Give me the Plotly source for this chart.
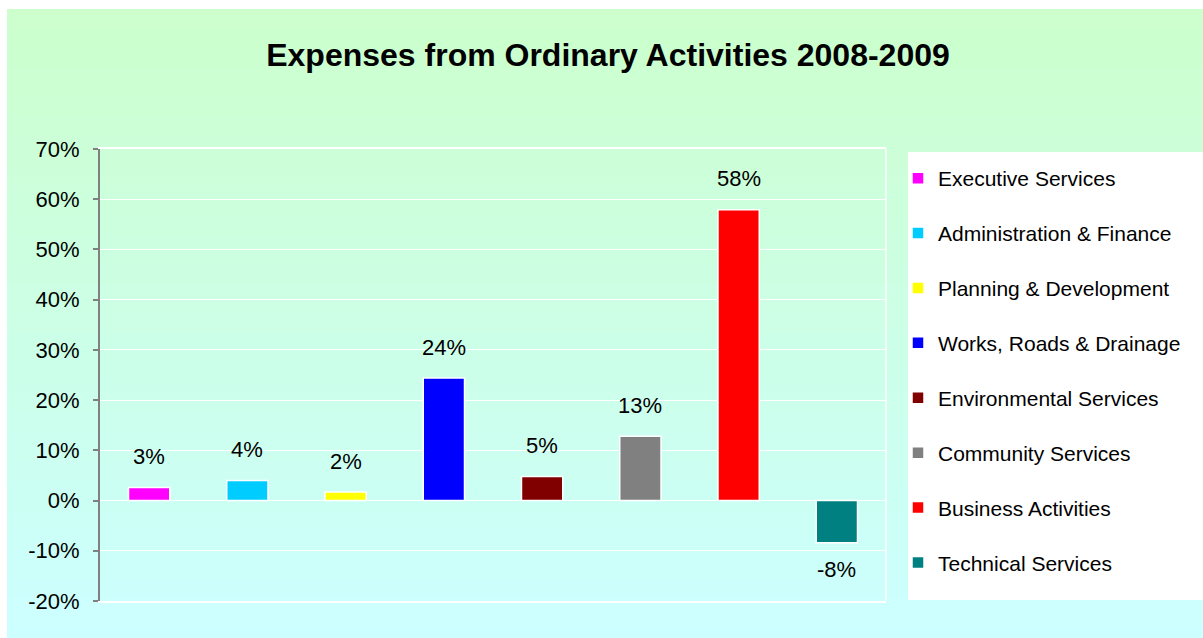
import plotly.graph_objects as go

# ---- data ----
categories = [
    "Executive Services",
    "Administration & Finance",
    "Planning & Development",
    "Works, Roads & Drainage",
    "Environmental Services",
    "Community Services",
    "Business Activities",
    "Technical Services",
]
values = [2.6, 4.0, 1.7, 24.4, 4.8, 12.8, 57.9, -8.4]
colors = ["#FF00FF", "#00CCFF", "#FFFF00", "#0000FF", "#800000", "#808080", "#FF0000", "#008080"]
y_ticks = [-20, -10, 0, 10, 20, 30, 40, 50, 60, 70]
y_tick_labels = ["-20%", "-10%", "0%", "10%", "20%", "30%", "40%", "50%", "60%", "70%"]
title_text = "Expenses from Ordinary Activities 2008-2009"

# ---- geometry helpers (pixel -> paper) ----
W, H = 1203, 638
ML, MR, MT, MB = 100, 317, 149, 37
PW, PH = W - ML - MR, H - MT - MB


def px_x(px):
    return (px - ML) / PW


def px_y(py):
    return (H - MB - py) / PH


FONT = "Liberation Sans, Arial, sans-serif"

fig = go.Figure()
for cat, val, col in zip(categories, values, colors):
    fig.add_trace(go.Bar(
        x=[cat], y=[val], name=cat, legendgroup=cat,
        marker=dict(color=col, line=dict(color="white", width=1.5)),
        width=0.42, hoverinfo="skip",
    ))

# data labels
for cat, val in zip(categories, values):
    fig.add_annotation(
        x=cat, y=val, text=f"{round(val)}%", showarrow=False,
        yanchor="middle", yshift=31 if val >= 0 else -27,
        font=dict(family=FONT, size=22, color="black"),
    )

# background gradient (light green -> light cyan)
shapes = []
top, bottom = 9, H
n = 64
step = (bottom - top) / n
for i in range(n):
    t = i / (n - 1)
    b = round(204 + (255 - 204) * t)
    y0 = top + i * step
    y1 = y0 + step + 1
    shapes.append(dict(
        type="rect", xref="paper", yref="paper", layer="below",
        x0=px_x(7), x1=px_x(W + 2), y0=px_y(min(y1, H + 2)), y1=px_y(y0),
        fillcolor=f"rgb(204,255,{b})", line=dict(width=0),
    ))
# legend white box
shapes.append(dict(
    type="rect", xref="paper", yref="paper", layer="below",
    x0=px_x(908), x1=px_x(W + 2), y0=px_y(600), y1=px_y(152),
    fillcolor="white", line=dict(width=0),
))
# right plot border
shapes.append(dict(
    type="line", xref="paper", yref="paper", layer="above",
    x0=1, x1=1, y0=0, y1=1, line=dict(color="white", width=1.5),
))

fig.update_layout(
    width=W, height=H, autosize=False,
    margin=dict(l=ML, r=MR, t=MT, b=MB, pad=0),
    paper_bgcolor="white",
    plot_bgcolor="rgba(0,0,0,0)",
    barmode="overlay",
    shapes=shapes,
    font=dict(family=FONT, size=22, color="black"),
    title=dict(
        text=f"<b>{title_text}</b>", x=608 / W, xref="container", xanchor="center",
        y=1 - 55 / H, yref="container", yanchor="middle",
        font=dict(family=FONT, size=32, color="black"),
    ),
    xaxis=dict(
        categoryorder="array", categoryarray=categories,
        showticklabels=False, ticks="", showgrid=False, zeroline=False,
        showline=True, linecolor="white", linewidth=1.5, mirror=True,
        range=[-0.5, len(categories) - 0.5],
    ),
    yaxis=dict(
        range=[-20, 70], tickvals=y_ticks, ticktext=y_tick_labels,
        showgrid=True, gridcolor="white", gridwidth=1,
        zeroline=True, zerolinecolor="white", zerolinewidth=1,
        showline=True, linecolor="#808080", linewidth=2,
        ticks="outside", ticklen=5, tickcolor="#808080", tickwidth=1.5,
        ticklabelstandoff=9,
        tickfont=dict(family=FONT, size=22, color="black"),
    ),
    legend=dict(
        x=px_x(898), xanchor="left", y=px_y(158), yanchor="top",
        bgcolor="rgba(0,0,0,0)", borderwidth=0,
        traceorder="grouped", tracegroupgap=24.6,
        font=dict(family=FONT, size=21, color="black"),
        itemclick=False, itemdoubleclick=False,
    ),
    showlegend=True,
)

post = (
    "document.body.style.margin='0';"
    "document.documentElement.style.overflow='hidden';"
    "document.body.style.overflow='hidden';"
    "var gd=document.getElementById('{plot_id}');"
    "Plotly.relayout(gd,{width:%d,height:%d});" % (W, H)
)

fig.write_html("out.html", post_script=post, config={"displayModeBar": False})
